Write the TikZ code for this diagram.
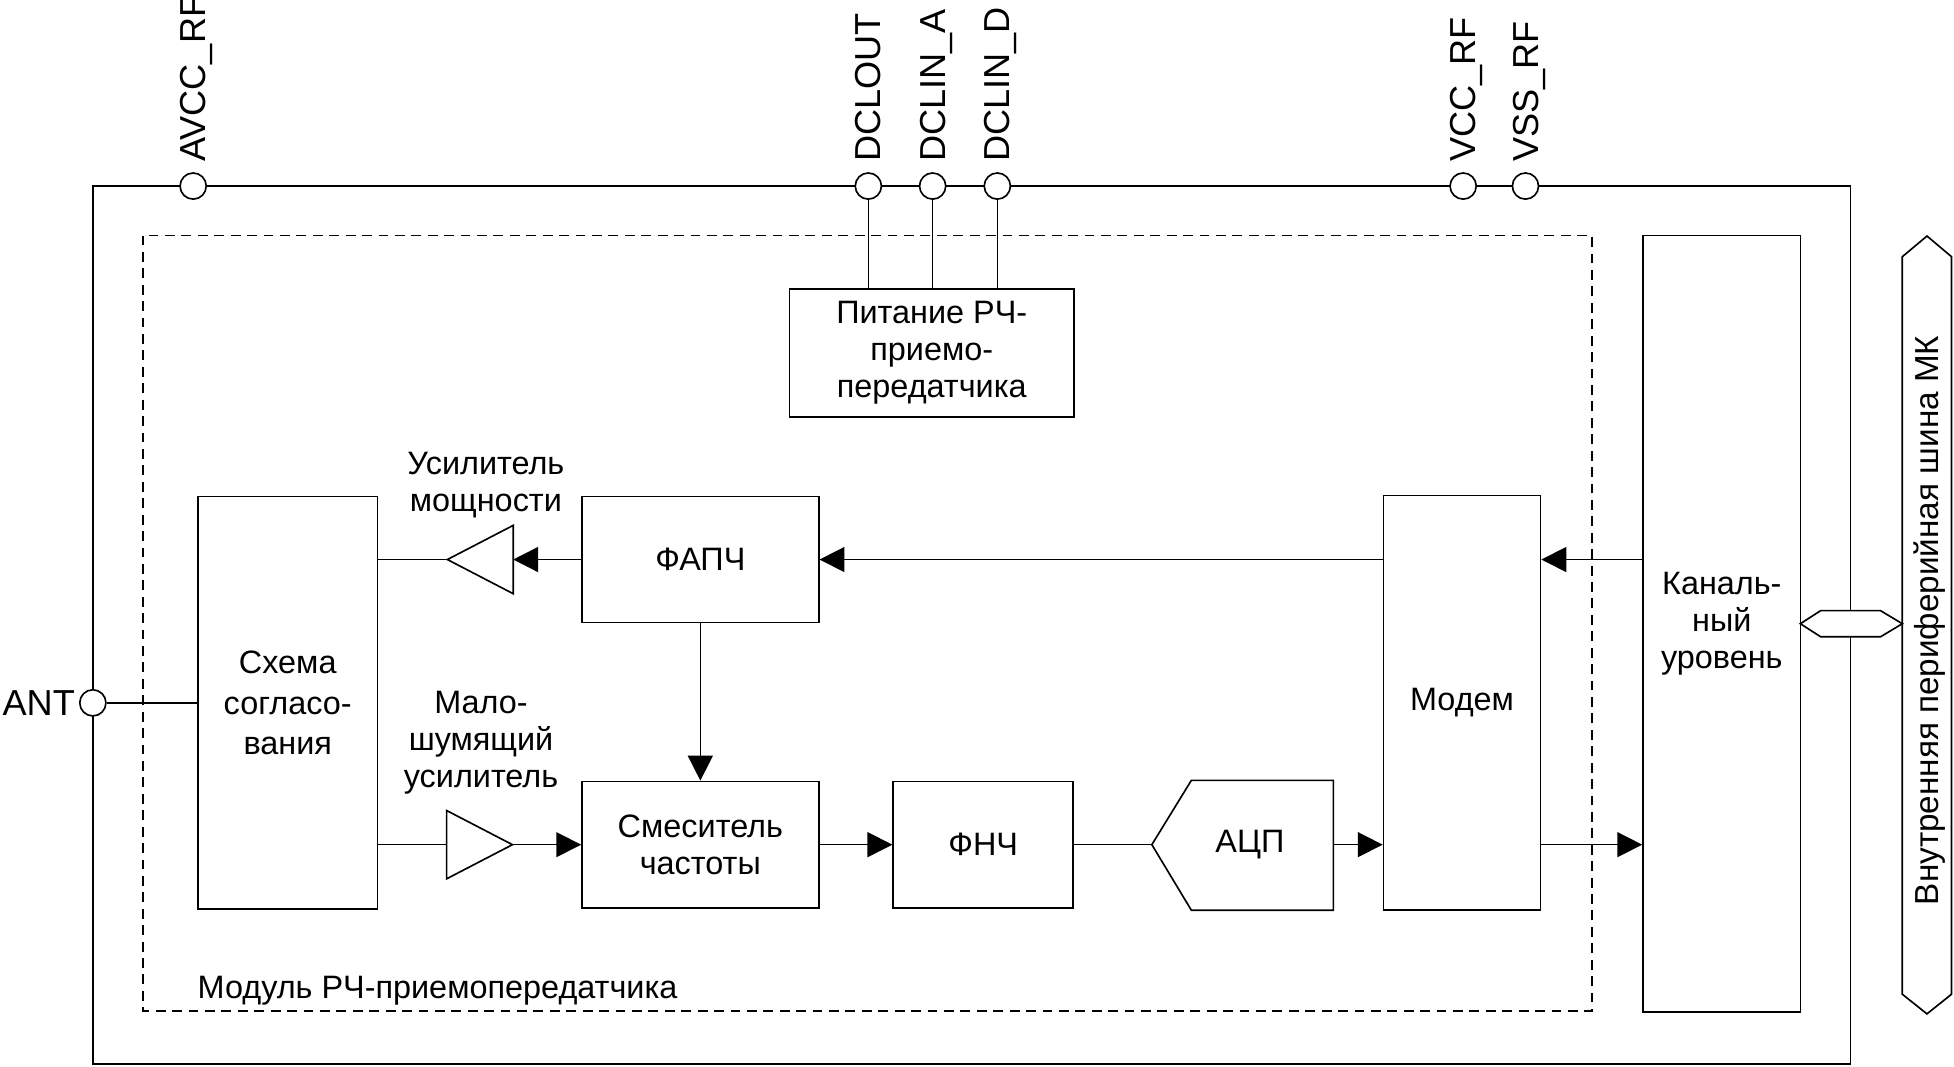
\documentclass[tikz,border=0pt]{standalone}
\usepackage{fontspec}
\setmainfont{Liberation Sans}
\usepackage{tikz}
\usetikzlibrary{calc}
\usetikzlibrary{arrows.meta}

\begin{document}
\begin{tikzpicture}[x=0.02cm, y=-0.02cm, line width=0.75pt,
        block/.style={draw, rectangle, inner sep=0pt, align=center, font=\fontsize{14.8}{16.8}\selectfont},
        caption/.style={inner sep=0pt, align=center, font=\fontsize{14.8}{16.8}\selectfont},
        pin/.style={draw, circle, fill=white, minimum size=0.42cm, inner sep=0pt},
        pinname/.style={rotate=90, anchor=west, inner sep=4.4pt, text depth=0pt, font=\fontsize{16.5}{19}\selectfont},
        amp/.style={rectangle, inner sep=0pt, minimum width=1.03cm, minimum height=1.07cm},
        sig/.style={-{Triangle[length=0.4cm, width=0.4cm]}}
      ]
    \useasboundingbox (0,0) rectangle (1568,856);

    % chip and module frames
    \draw (74.5,149.3) rectangle (1485,854);
    \draw[dash pattern=on 4.5pt off 3pt] (115,189) rectangle (1277.5,811.5);
    \node[caption, anchor=base west] (modname) at (158,801) {Модуль РЧ-приемопередатчика};

    % bus
    \draw (1546.3,189.4) -- (1566,206) -- (1566,797.8) -- (1546.3,813.6) -- (1526.5,797.8) -- (1526.5,206) -- cycle;
    \node[rotate=90, anchor=west, inner sep=0pt, text depth=0pt, font=\fontsize{15.2}{18}\selectfont]
      (busname) at (1545.5,727) {Внутренняя периферийная шина МК};
    \draw[fill=white] (1444.7,500.5) -- (1461,490) -- (1509,490) -- (1526.5,500.5) -- (1509,511) -- (1461,511) -- cycle;

    % pins
    \node[pin, label={[pinname]above:AVCC\_RF}] (avcc) at (155,149.3) {};
    \node[pin, label={[pinname]above:DCLOUT}] (dclout) at (696.8,149.3) {};
    \node[pin, label={[pinname]above:DCLIN\_A}] (dclina) at (748.4,149.3) {};
    \node[pin, label={[pinname]above:DCLIN\_D}] (dclind) at (800.3,149.3) {};
    \node[pin, label={[pinname]above:VCC\_RF}] (vcc) at (1174.1,149.3) {};
    \node[pin, label={[pinname]above:VSS\_RF}] (vss) at (1224.1,149.3) {};
    \node[pin, label={[inner sep=1.5pt, font=\fontsize{16.5}{19}\selectfont]left:ANT}] (ant) at (74.5,564) {};

    % blocks
    \node[block, minimum width=4.57cm, minimum height=2.05cm] (power) at (747.7,283.2) {Питание РЧ-\\приемо-\\передатчика};
    \node[block, minimum width=2.886cm, minimum height=6.62cm, font=\fontsize{14.8}{18.7}\selectfont] (match) at (230.9,564) {Схема\\согласо-\\вания};
    \node[block, minimum width=3.8cm, minimum height=2.02cm] (pll) at (562,449) {ФАПЧ};
    \node[block, minimum width=3.8cm, minimum height=2.03cm] (mixer) at (562,677.8) {Смеситель\\частоты};
    \node[block, minimum width=2.89cm, minimum height=2.03cm] (lpf) at (789,677.8) {ФНЧ};
    \node[caption] (adc) at (1003,677.8) {АЦП};
    \draw (956,626.2) -- (1070,626.2) -- (1070,730.4) -- (956,730.4) -- (924.3,677.8) -- cycle;
    \coordinate (adcin) at (924.3,677.8);
    \coordinate (adcout) at (1070,677.8);
    \node[block, minimum width=2.52cm, minimum height=6.65cm] (modem) at (1173.2,563.8) {Модем};
    \node[block, minimum width=2.53cm, minimum height=12.46cm] (canal) at (1381.7,500.5) {Каналь-\\ный\\уровень};

    % amplifiers
    \node[amp] (pa) at (385.4,449) {};
    \draw (pa.north east) -- (pa.south east) -- (pa.west) -- cycle;
    \node[caption] (palabel) at (389.9,389) {Усилитель\\мощности};
    \node[amp] (lna) at (384.8,677.8) {};
    \draw (lna.north west) -- (lna.south west) -- (lna.east) -- cycle;
    \node[caption] (lnalabel) at (386,596) {Мало-\\шумящий\\усилитель};

    % connections
    \foreach \p in {dclout,dclina,dclind}
      \draw (\p.south) -- (\p.south |- power.north);
    \draw (ant.east) -- (match.west);
    \draw (match.east |- pa.west) -- (pa.west);
    \draw[sig] (pll.west) -- (pa.east);
    \draw[sig] (modem.west |- pll.east) -- (pll.east);
    \draw[sig] (canal.west |- pll.east) -- (modem.east |- pll.east);
    \draw[sig] (pll.south) -- (mixer.north);
    \draw (match.east |- lna.west) -- (lna.west);
    \draw[sig] (lna.east) -- (mixer.west |- lna.east);
    \draw[sig] (mixer.east) -- (lpf.west);
    \draw (lpf.east) -- (adcin);
    \draw[sig] (adcout) -- (modem.west |- adcout);
    \draw[sig] (modem.east |- adcout) -- (canal.west |- adcout);

    \end{tikzpicture}
\end{document}
